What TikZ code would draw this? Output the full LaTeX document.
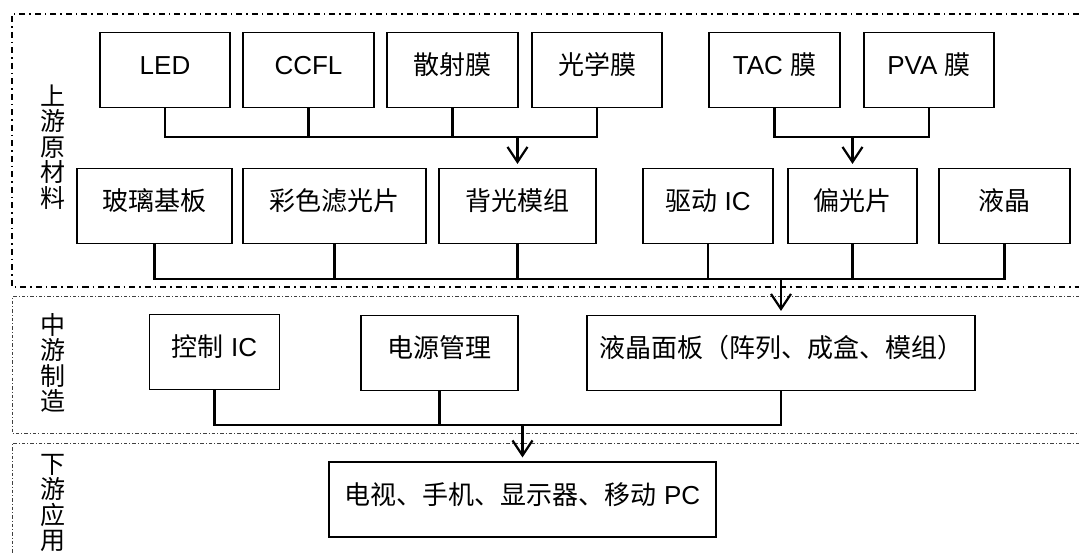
\documentclass[tikz,border=0pt]{standalone}
\usepackage{fontspec}
\setmainfont{Liberation Sans}
\newfontfamily\cjk{Noto Sans CJK SC}
\usetikzlibrary{arrows.meta}
\begin{document}
\begin{tikzpicture}[x=1pt,y=-1pt,
  box/.style={draw, line width=1.1pt, inner sep=0pt, text height=42pt, text depth=33pt,
    font=\fontsize{26}{28}\selectfont},
  conn/.style={line width=2.2pt, line join=miter},
  arr/.style={conn, -{Straight Barb[length=15pt,width=20pt,line width=2.2pt]}, shorten >=4pt},
  sec/.style={line width=1.2pt, dash pattern=on 6pt off 4pt on 1.5pt off 4pt},
  secb/.style={line width=1pt, black!75, dash pattern=on 3.5pt off 2pt on 1pt off 2pt},
  lab/.style={align=center, inner sep=0pt, font=\cjk\fontsize{25}{25.5}\selectfont}]
\useasboundingbox (0,0) rectangle (1079,553);
% section frames
\draw[sec] (1079,14) -- (12,14) -- (12,287) -- (1079,287);
\draw[secb] (1079,297) -- (12,297) -- (12,433) -- (1079,433);
\draw[secb] (1079,443) -- (12,443) -- (12,553);
% section labels
\node[lab] (upL) at (52.5,147) {上\\游\\原\\材\\料};
\node[lab] (midL) at (52.5,363) {中\\游\\制\\造};
\node[lab] (downL) at (52.5,503) {下\\游\\应\\用};
% row 1
\node[box, minimum width=130pt] (led) at (165,70) {LED};
\node[box, minimum width=131pt] (ccfl) at (308.5,70) {CCFL};
\node[box, minimum width=131pt] (scat) at (452.5,70) {\cjk 散射膜};
\node[box, minimum width=130pt] (opt) at (597,70) {\cjk 光学膜};
\node[box, minimum width=131pt] (tac) at (774.5,70) {TAC {\cjk 膜}};
\node[box, minimum width=130pt] (pva) at (929,70) {PVA {\cjk 膜}};
% row 2
\node[box, minimum width=155pt] (glass) at (154.5,206) {\cjk 玻璃基板};
\node[box, minimum width=183pt] (cf) at (334.5,206) {\cjk 彩色滤光片};
\node[box, minimum width=157pt] (bl) at (517.5,206) {\cjk 背光模组};
\node[box, minimum width=130pt] (drv) at (708,206) {{\cjk 驱动} IC};
\node[box, minimum width=129pt] (pol) at (852.5,206) {\cjk 偏光片};
\node[box, minimum width=131pt] (lc) at (1004.5,206) {\cjk 液晶};
% middle
\node[box, minimum width=130pt] (ctl) at (214.5,352) {{\cjk 控制} IC};
\node[box, minimum width=157pt] (pwr) at (439.5,353) {\cjk 电源管理};
\node[box, minimum width=388pt] (panel) at (781,353) {\cjk 液晶面板（阵列、成盒、模组）};
% downstream
\node[box, minimum width=387pt] (app) at (522.5,499.5) {{\cjk 电视、手机、显示器、移动} PC};
% bus coordinates
\coordinate (busA) at (0,137);
\coordinate (busB) at (0,279);
\coordinate (busC) at (0,425);
% row 1 connectors
\draw[conn] (led.south) |- (opt.south |- busA) -- (opt.south);
\draw[conn] (ccfl.south) -- (ccfl.south |- busA);
\draw[conn] (scat.south) -- (scat.south |- busA);
\draw[arr] (bl.north |- busA) -- (bl.north);
\draw[conn] (tac.south) |- (pva.south |- busA) -- (pva.south);
\draw[arr] (pol.north |- busA) -- (pol.north);
% row 2 connectors
\draw[conn] (glass.south) |- (lc.south |- busB) -- (lc.south);
\draw[conn] (cf.south) -- (cf.south |- busB);
\draw[conn] (bl.south) -- (bl.south |- busB);
\draw[conn] (drv.south) -- (drv.south |- busB);
\draw[conn] (pol.south) -- (pol.south |- busB);
\draw[arr] (panel.north |- busB) -- (panel.north);
% middle connectors
\draw[conn] (ctl.south) |- (panel.south |- busC) -- (panel.south);
\draw[conn] (pwr.south) -- (pwr.south |- busC);
\draw[arr] (app.north |- busC) -- (app.north);
\end{tikzpicture}
\end{document}
